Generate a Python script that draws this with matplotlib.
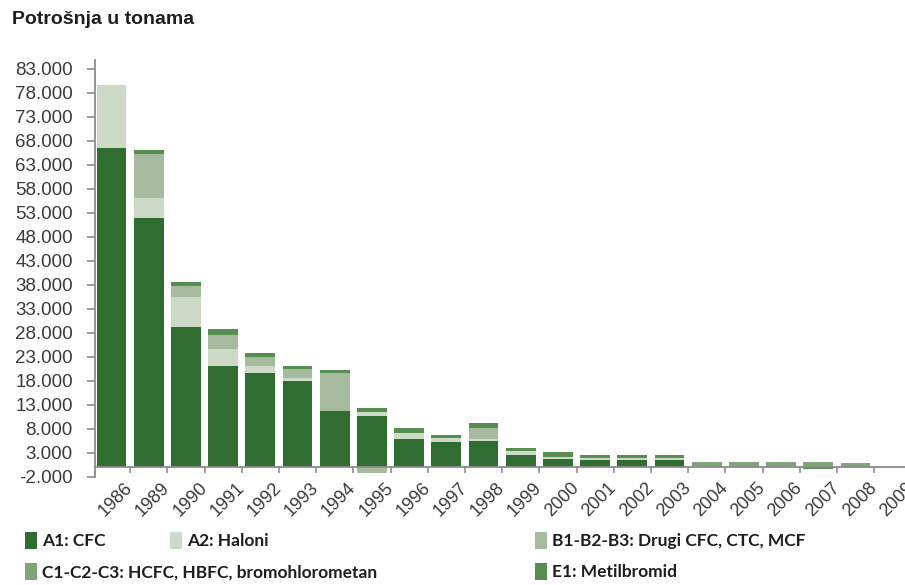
import numpy as np
import matplotlib
matplotlib.use("Agg")
import matplotlib.pyplot as plt
from matplotlib.ticker import FuncFormatter

years = ['1986', '1989', '1990', '1991', '1992', '1993', '1994', '1995', '1996', '1997',
         '1998', '1999', '2000', '2001', '2002', '2003', '2004', '2005', '2006', '2007',
         '2008', '2009']

a1_cfc = [66400, 51900, 29200, 21000, 19600, 17900, 11700, 10600, 5800, 5300,
          5400, 2500, 1700, 1400, 1400, 1400, 0, 0, 0, 0, 0, 0]
a2_haloni = [13100, 4200, 6300, 3500, 1400, 600, 0, 800, 1300, 700,
             400, 800, 500, 400, 400, 400, 0, 0, 0, 0, 0, 0]
b_drugi = [0, 9200, 2300, 3000, 2000, 1900, 8000, -1200, 0, 0,
           2300, 0, 0, 0, 0, 0, 0, 0, 0, 0, 0, 0]
c_hcfc = [0, 0, 0, 0, 0, 0, 0, 0, 0, 0,
          0, 0, 0, 0, 0, 0, 1000, 1000, 1000, 1100, 950, 0]
e1_metilbromid = [0, 700, 700, 1200, 750, 600, 600, 950, 1100, 600,
                  1000, 600, 900, 700, 700, 700, 0, 0, 0, -300, 0, 0]

series_labels = ['A1: CFC', 'A2: Haloni', 'B1-B2-B3: Drugi CFC, CTC, MCF',
                 'C1-C2-C3: HCFC, HBFC, bromohlorometan', 'E1: Metilbromid']
series_values = [a1_cfc, a2_haloni, b_drugi, c_hcfc, e1_metilbromid]
series_colors = ['#2f6d31', '#ccdac7', '#a6ba9e', '#7ea676', '#568e52']

W, H = 905, 585
plt.rcParams['font.family'] = ['Liberation Sans', 'DejaVu Sans']
fig = plt.figure(figsize=(W / 100, H / 100), dpi=100)

step = 37.2
x0_px = 95
left_lim = -0.444
right_lim = 21.6
ax_w = (right_lim - left_lim) * step
ax = fig.add_axes([x0_px / W, 1 - 476.7 / H, ax_w / W, (476.7 - 60) / H])

x = np.arange(len(years))
pos_bottom = np.zeros(len(years))
neg_bottom = np.zeros(len(years))
handles = []
for vals, col, lab in zip(series_values, series_colors, series_labels):
    v = np.array(vals, dtype=float)
    bottoms = np.where(v >= 0, pos_bottom, neg_bottom)
    bc = ax.bar(x, v, width=0.8, bottom=bottoms, color=col, label=lab, zorder=2,
                linewidth=0)
    handles.append(bc)
    pos_bottom += np.where(v > 0, v, 0)
    neg_bottom += np.where(v < 0, v, 0)

for s in ['top', 'right']:
    ax.spines[s].set_visible(False)
spine_col = '#8c8c8c'
ax.spines['left'].set_color(spine_col)
ax.spines['bottom'].set_color(spine_col)
ax.spines['left'].set_linewidth(1.3)
ax.spines['bottom'].set_linewidth(1.3)
ax.spines['bottom'].set_position(('data', 0))

ax.set_xlim(left_lim, right_lim)
ax.set_ylim(-2000, 84800)

yt = np.arange(-2000, 83001, 5000)
ax.set_yticks(yt)
ax.yaxis.set_major_formatter(FuncFormatter(lambda v, p: f"{int(v):,}".replace(',', '.')))

ax.set_xticks(x + 0.5)
ax.set_xticklabels(years)

ax.tick_params(axis='y', length=6, width=1.2, color=spine_col, pad=10,
               labelsize=13.5, labelcolor='#3a3a3a')
ax.tick_params(axis='x', length=4, width=1.2, color=spine_col, pad=9,
               labelsize=13, labelcolor='#3a3a3a')
for t in ax.get_xticklabels():
    t.set_rotation(45)
    t.set_rotation_mode('anchor')
    t.set_ha('right')
    t.set_va('center')

fig.text(12 / W, 1 - 11 / H, 'Potrošnja u tonama', fontsize=14, fontweight='bold',
         color='#1e1e1e', ha='left', va='top')

leg_pos = [(25, 532), (170, 532), (535, 532), (25, 563), (535, 563)]
for h, lab, (px, py) in zip(handles, series_labels, leg_pos):
    lg = fig.legend([h], [lab], loc='upper left', bbox_to_anchor=(px / W, 1 - py / H),
                    frameon=False, borderpad=0, borderaxespad=0, handlelength=0.7,
                    handleheight=1.15, handletextpad=0.3,
                    prop={'family': ['Lato', 'Liberation Sans'],
                          'weight': 'bold', 'size': 12.5})
    for t in lg.get_texts():
        t.set_color('#1e1e1e')

fig.savefig('out.png', dpi=100)
